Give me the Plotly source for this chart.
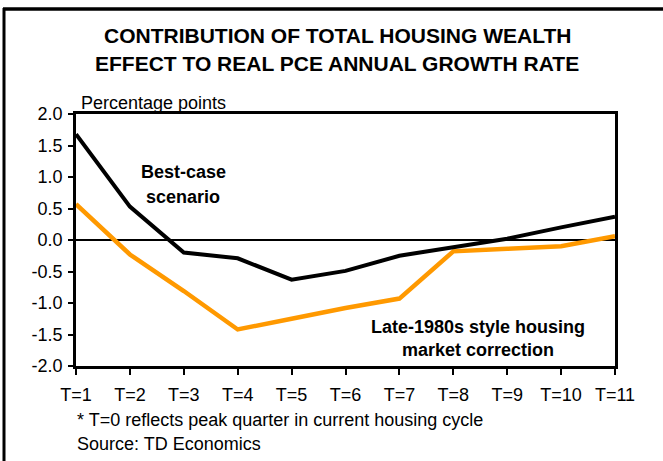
import plotly.graph_objects as go

# data
periods = ["T=1", "T=2", "T=3", "T=4", "T=5", "T=6", "T=7", "T=8", "T=9", "T=10", "T=11"]
best_case = [1.68, 0.53, -0.20, -0.29, -0.63, -0.49, -0.25, -0.11, 0.02, 0.20, 0.37]
late_1980s = [0.57, -0.23, -0.81, -1.42, -1.25, -1.08, -0.93, -0.18, -0.14, -0.10, 0.06]
y_ticks = [-2.0, -1.5, -1.0, -0.5, 0.0, 0.5, 1.0, 1.5, 2.0]
y_labels = ["-2.0", "-1.5", "-1.0", "-0.5", "0.0", "0.5", "1.0", "1.5", "2.0"]

W, H = 663, 461
L, R, T, B = 76, 615, 114, 366
FONT = "Arial, Liberation Sans, sans-serif"


# pixel position -> paper coordinates
def px(x):
    return (x - L) / (R - L)


def py(y):
    return (B - y) / (B - T)


fig = go.Figure()
fig.add_trace(go.Scatter(x=periods, y=late_1980s, mode="lines",
                         line=dict(color="#FF9900", width=4.5), name="Late-1980s"))
fig.add_trace(go.Scatter(x=periods, y=best_case, mode="lines",
                         line=dict(color="black", width=4), name="Best-case"))

fig.update_xaxes(type="category", range=[0, 10], showline=True, linecolor="black",
                 linewidth=2.5, mirror=True, showgrid=False, ticks="outside",
                 ticklen=6, tickwidth=2, tickcolor="black", ticklabelstandoff=5,
                 tickfont=dict(family=FONT, size=18, color="black"))
fig.update_yaxes(range=[-2, 2], tickvals=y_ticks, ticktext=y_labels, showline=True,
                 linecolor="black", linewidth=2.5, mirror=True, showgrid=False,
                 zeroline=True, zerolinecolor="black", zerolinewidth=1.5,
                 ticks="outside", ticklen=5, tickwidth=2, tickcolor="black",
                 ticklabelstandoff=2,
                 tickfont=dict(family=FONT, size=18, color="black"))

notes = [
    ("<b>CONTRIBUTION OF TOTAL HOUSING WEALTH</b>", 337, 35, 21, "center"),
    ("<b>EFFECT TO REAL PCE ANNUAL GROWTH RATE</b>", 337, 63, 21, "center"),
    ("Percentage points", 79, 103, 18, "left"),
    ("<b>Best-case</b>", 183, 172, 18, "center"),
    ("<b>scenario</b>", 183, 197, 18, "center"),
    ("<b>Late-1980s style housing</b>", 478, 327, 18, "center"),
    ("<b>market correction</b>", 478, 350, 18, "center"),
    ("* T=0 reflects peak quarter in current housing cycle", 75, 420, 18, "left"),
    ("Source: TD Economics", 75, 444, 18, "left"),
]
for text, x, y, size, anchor in notes:
    fig.add_annotation(text=text, x=px(x), y=py(y), xref="paper", yref="paper",
                       xanchor=anchor, yanchor="middle", showarrow=False,
                       font=dict(family=FONT, size=size, color="black"))

# outer frame: left and top edges only
fig.add_shape(type="line", xref="paper", yref="paper", x0=px(4), x1=px(4),
              y0=py(8), y1=py(470), line=dict(color="black", width=3))
fig.add_shape(type="line", xref="paper", yref="paper", x0=px(3), x1=px(670),
              y0=py(9), y1=py(9), line=dict(color="black", width=3.5))

fig.update_layout(width=W, height=H, showlegend=False,
                  margin=dict(l=L, r=W - R, t=T, b=H - B),
                  plot_bgcolor="white", paper_bgcolor="white",
                  font=dict(family=FONT, size=18, color="black"))

# drop the browser's default body margin so the figure sits at the page corner
fig.write_html("out.html", config={"displayModeBar": False},
               post_script="document.body.style.margin = '0';")
